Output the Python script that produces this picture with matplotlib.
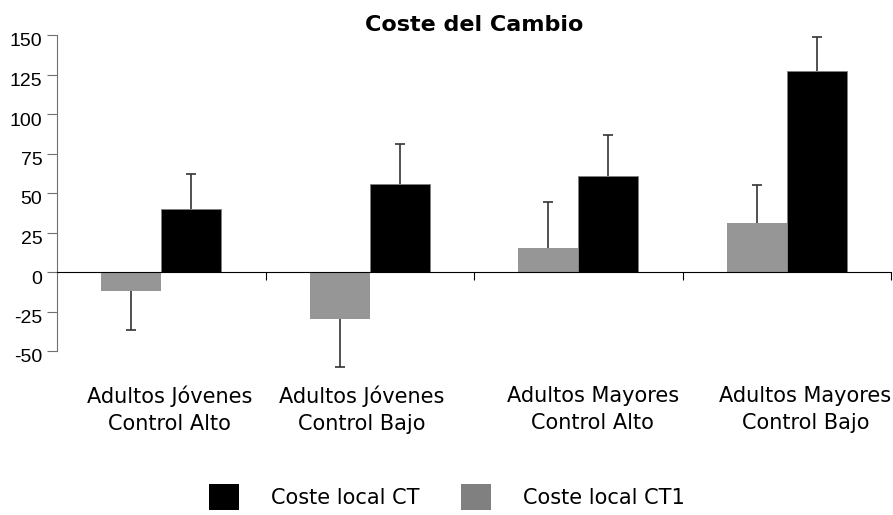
import numpy as np
import matplotlib.pyplot as plt
import matplotlib.transforms as mtransforms
from matplotlib.patches import Patch

plt.rcParams['axes.unicode_minus'] = False

groups = ["Adultos Jóvenes\nControl Alto", "Adultos Jóvenes\nControl Bajo",
          "Adultos Mayores\nControl Alto", "Adultos Mayores\nControl Bajo"]
ct = [40, 56, 61, 127]
ct_err = [22, 25, 25.5, 22]
ct1 = [-12, -30, 15, 31]
ct1_err = [25, 30, 29, 24]

fig = plt.figure(figsize=(8.93, 5.15), dpi=100)
ax = fig.add_axes([57/893, 1-351/515, 834/893, 316/515])

x = np.arange(len(groups))
w = 0.288
ax.bar(x - w/2, ct1, w, color='#969696', linewidth=0, zorder=2)
ax.bar(x + w/2, ct, w, color='black', edgecolor='#808080', linewidth=0.6, zorder=2)

# one-sided error bars, pointing away from zero
for xpos, vals, errs in [(x - w/2, ct1, ct1_err), (x + w/2, ct, ct_err)]:
    vals = np.array(vals)
    ends = vals + np.sign(vals) * np.array(errs)
    ax.vlines(xpos, vals, ends, color='#333333', linewidth=1.2, zorder=3, clip_on=False)
    ax.plot(xpos, ends, '_', ms=7, mew=1.2, color='#333333', zorder=3, clip_on=False)

ax.set_xlim(-0.5, 3.5)
ax.set_ylim(-50, 150)
ax.set_yticks(np.arange(-50, 151, 25))

ax.spines['top'].set_visible(False)
ax.spines['right'].set_visible(False)
ax.spines['bottom'].set_position(('data', 0))
ax.spines['bottom'].set_color('black')
ax.spines['left'].set_color('#707070')

ax.set_xticks([0.5, 1.5, 2.5, 3.5])
ax.set_xticklabels([])
ax.tick_params(axis='x', length=6, direction='out', color='black')
ax.tick_params(axis='y', length=7, direction='out', color='#707070')

off = mtransforms.ScaledTranslation(0, -5/100, fig.dpi_scale_trans)
for lab in ax.get_yticklabels():
    lab.set_fontfamily('Liberation Sans')
    lab.set_fontsize(14)
    lab.set_transform(lab.get_transform() + off)

ax.set_title('Coste del Cambio', fontsize=16, fontweight='bold', pad=2)

lab_off = [0.04, -0.04, 0.07, 0.09]
for i, g in enumerate(groups):
    ax.text(i + lab_off[i], -0.11, g, transform=ax.get_xaxis_transform(),
            ha='center', va='top', fontsize=15, linespacing=1.45)

handles = [Patch(facecolor='black', label='Coste local CT'),
           Patch(facecolor='#808080', label='Coste local CT1')]
fig.legend(handles=handles, loc='center', bbox_to_anchor=(447/893, 1-497/515),
           ncol=2, frameon=False, fontsize=15, handlelength=1.43, handleheight=1.48,
           handletextpad=1.55, columnspacing=2.0)

fig.savefig('out.png', dpi=100)
